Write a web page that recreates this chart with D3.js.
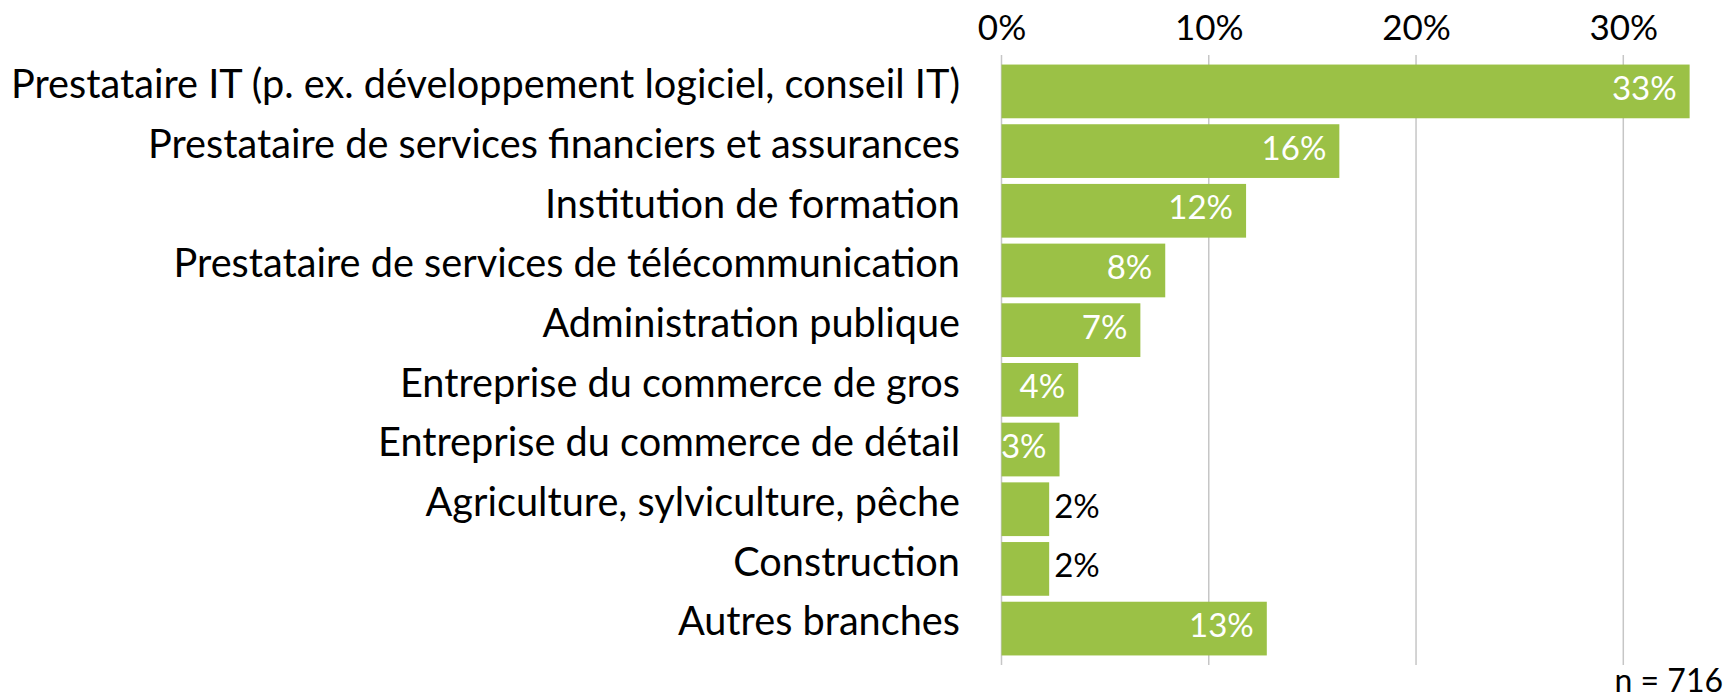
<!DOCTYPE html>
<html>
<head>
<meta charset="utf-8">
<script src="https://cdn.jsdelivr.net/npm/d3@7"></script>
<style>
  html, body { margin: 0; padding: 0; background: #fff; }
  svg { display: block; }
  text { font-family: Lato, "Open Sans", sans-serif; }
</style>
</head>
<body>
<svg id="chart" width="1735" height="700"></svg>
<script>
const categories = [
  "Prestataire IT (p. ex. développement logiciel, conseil IT)",
  "Prestataire de services financiers et assurances",
  "Institution de formation",
  "Prestataire de services de télécommunication",
  "Administration publique",
  "Entreprise du commerce de gros",
  "Entreprise du commerce de détail",
  "Agriculture, sylviculture, pêche",
  "Construction",
  "Autres branches"
];
const values = [33.2, 16.3, 11.8, 7.9, 6.7, 3.7, 2.8, 2.3, 2.3, 12.8];
const valueLabels = ["33%", "16%", "12%", "8%", "7%", "4%", "3%", "2%", "2%", "13%"];
const tickValues = [0, 10, 20, 30];
const tickLabels = ["0%", "10%", "20%", "30%"];
const note = "n = 716";

const svg = d3.select("#chart");
const x = d3.scaleLinear().domain([0, 30]).range([1001.5, 1623.3]);
const y = d3.scaleBand().domain(categories).range([55, 665]).paddingInner(0.1).paddingOuter(0.16);

// gridlines
svg.append("g")
  .selectAll("line")
  .data(tickValues)
  .join("line")
  .attr("x1", d => x(d)).attr("x2", d => x(d))
  .attr("y1", 55).attr("y2", 665)
  .attr("stroke", "#c6c6c6")
  .attr("stroke-width", 1.5);

// top axis labels
const axis = d3.axisTop(x).tickValues(tickValues).tickFormat((d, i) => tickLabels[i]).tickSize(0).tickPadding(0);
const gAxis = svg.append("g").attr("transform", "translate(0,40)").call(axis);
gAxis.select(".domain").remove();
gAxis.selectAll("text")
  .attr("font-size", 35)
  .attr("fill", "#000")
  .attr("dy", 0)
  .style("font-family", "Lato, 'Open Sans', sans-serif");

// bars
svg.append("g")
  .selectAll("rect")
  .data(values)
  .join("rect")
  .attr("x", x(0))
  .attr("y", (d, i) => y(categories[i]))
  .attr("width", d => x(d) - x(0))
  .attr("height", y.bandwidth())
  .attr("fill", "#9bc146");

// value labels
svg.append("g")
  .selectAll("text")
  .data(values)
  .join("text")
  .attr("x", d => d < 2.5 ? x(d) + 5 : x(d) - 13)
  .attr("y", (d, i) => y(categories[i]) + y.bandwidth() / 2)
  .attr("dy", "0.26em")
  .attr("text-anchor", d => d < 2.5 ? "start" : "end")
  .attr("fill", d => d < 2.5 ? "#000" : "#fff")
  .attr("font-size", 33)
  .text((d, i) => valueLabels[i]);

// category labels
svg.append("g")
  .selectAll("text")
  .data(categories)
  .join("text")
  .attr("x", 960)
  .attr("y", d => y(d) + y.bandwidth() / 2)
  .attr("dy", "0.17em")
  .attr("text-anchor", "end")
  .attr("fill", "#000")
  .attr("font-size", 39.7)
  .text(d => d);

// note
svg.append("text")
  .attr("x", 1723)
  .attr("y", 692)
  .attr("text-anchor", "end")
  .attr("font-size", 32)
  .attr("fill", "#000")
  .text(note);
</script>
</body>
</html>
